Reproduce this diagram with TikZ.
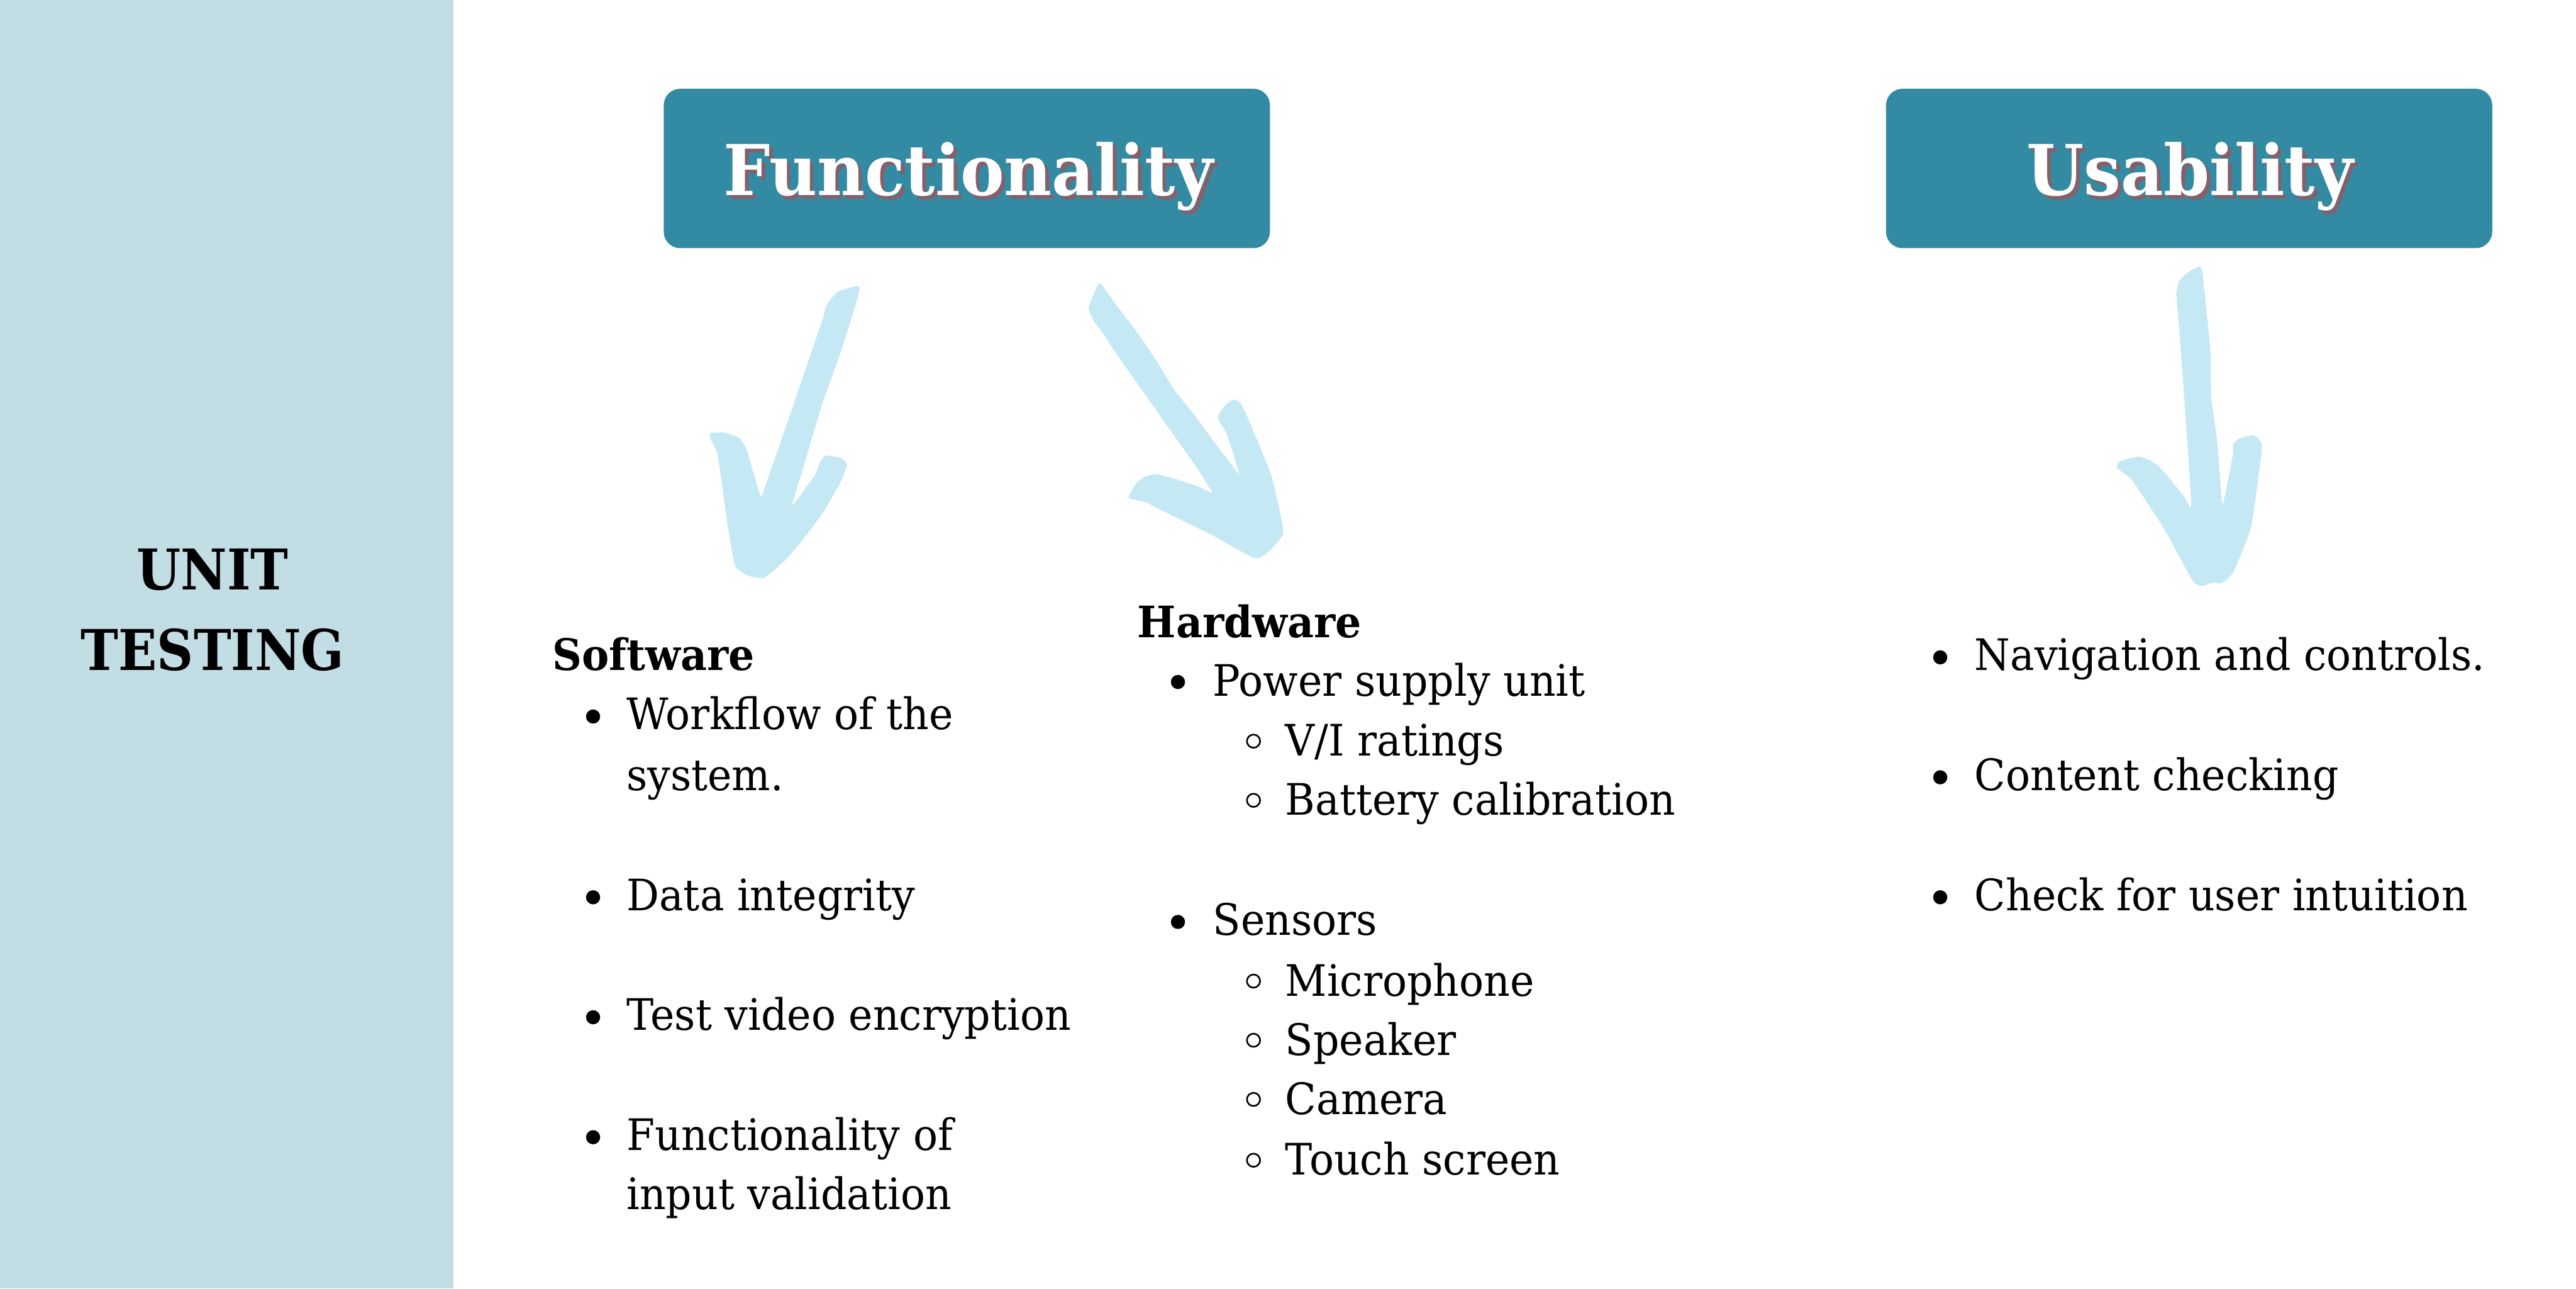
\documentclass[tikz,border=0pt]{standalone}
\usepackage{fontspec}
\setmainfont{DejaVu Serif}[FakeStretch=0.94]
\newfontfamily\sidefont{DejaVu Serif}[FakeStretch=0.9]
\usetikzlibrary{positioning}
\definecolor{panelblue}{RGB}{195,221,228}
\definecolor{boxteal}{RGB}{51,139,163}
\definecolor{shadowred}{RGB}{132,96,107}
\definecolor{arrowblue}{RGB}{197,232,245}
\newcommand{\shadowtext}[1]{\makebox[0pt][l]{\hspace{1.1pt}\raisebox{-1pt}{\color{shadowred}#1}}#1}
\newcommand{\fbul}[2]{\fill (#1,#2) circle[radius=2.15pt];}
\newcommand{\obul}[2]{\draw[line width=0.5pt] (#1,#2) circle[radius=2pt];}

\begin{document}
\begin{tikzpicture}[x=0.5pt, y=-0.5pt,
  txt/.style={anchor=base west, inner sep=0pt, font=\fontsize{13.2}{16}\selectfont},
  head/.style={txt, font=\fontsize{13.2}{16}\selectfont\bfseries},
  titlebox/.style={fill=boxteal, rounded corners=5pt, minimum width=184.5pt,
    minimum height=48.5pt, inner sep=0pt},
  titletext/.style={anchor=base, inner sep=0pt, text=white,
    font=\fontsize{21.3}{24}\selectfont\bfseries},
  sidetext/.style={anchor=base, inner sep=0pt, font=\sidefont\fontsize{17.1}{20}\selectfont\bfseries},
  brush/.style={fill=arrowblue}]
  \useasboundingbox (0,0) rectangle (1568,784);
  % side panel
  \fill[panelblue] (0,0) rectangle (276,784);
  \node[sidetext] (unit) at (129.5,359) {UNIT};
  \node[sidetext] (testing) at (129.5,408) {TESTING};
  % title boxes
  \node[titlebox] (func) at (588.5,102.5) {};
  \node[titletext] (funclbl) at (589.5,119) {\shadowtext{Functionality}};
  \node[titlebox] (usab) at (1332.5,102.5) {};
  \node[titletext] (usablbl) at (1333,119) {\shadowtext{Usability}};
  % brush arrows
  \fill[brush] plot[smooth cycle, tension=0.3] coordinates {
    (522.6,174.0) (509.8,177.6) (502.9,186.1) (500.6,194.6) (489.0,228.6)
    (477.4,262.5) (465.9,295.3) (463.5,302.5) (461.2,296.5) (454.3,273.4)
    (449.7,266.2) (440.4,263.1) (432.3,263.7) (432.3,266.8) (436.9,277.1)
    (442.7,318.3) (447.3,343.8) (454.3,349.9) (464.7,351.7) (477.4,341.4)
    (489.0,328.0) (500.6,312.3) (511.0,294.7) (515.6,283.1) (512.2,278.9)
    (502.9,277.1) (499.4,280.7) (496.0,289.2) (489.0,298.9) (482.1,307.4)
    (489.0,284.3) (500.6,245.5) (511.0,216.4) (518.0,194.6) (522.6,178.8)};
  \fill[brush] plot[smooth cycle, tension=0.3] coordinates {
    (668.4,172.8) (662.6,187.3) (666.1,195.8) (670.7,201.9) (681.2,217.6)
    (692.7,234.0) (704.3,250.4) (715.9,266.8) (727.4,283.1) (737.9,299.5)
    (735.5,298.9) (727.4,295.3) (715.9,291.6) (704.3,288.6) (697.3,289.8)
    (691.6,294.1) (686.9,302.5) (689.3,303.8) (697.3,305.6) (704.3,309.2)
    (722.8,318.3) (739.0,326.2) (750.6,332.9) (762.2,339.0) (766.8,339.5)
    (772.6,335.3) (776.1,331.7) (780.7,325.6) (780.7,319.5) (773.8,289.2)
    (759.9,255.2) (755.2,245.5) (751.7,243.1) (748.3,244.3) (743.7,249.2)
    (741.3,254.0) (743.7,258.9) (747.1,264.9) (754.1,288.0) (749.4,282.5)
    (737.9,267.4) (726.3,251.6) (714.7,237.0) (704.3,220.1) (692.7,203.1)
    (681.2,187.9) (670.7,173.4)};
  \fill[brush] plot[smooth cycle, tension=0.3] coordinates {
    (1339.0,162.3) (1340.7,166.3) (1342.5,183.6) (1345.5,214.2) (1345.9,240.8)
    (1349.4,267.4) (1352.4,304.7) (1353.6,304.7) (1358.9,278.1) (1359.4,270.1)
    (1363.3,266.8) (1371.9,264.8) (1376.7,270.1) (1375.9,280.7) (1370.2,320.7)
    (1359.8,347.3) (1352.9,354.6) (1346.8,354.6) (1339.8,356.6) (1334.6,353.3)
    (1318.1,323.3) (1298.2,292.7) (1288.6,284.7) (1290.4,280.7) (1302.5,277.8)
    (1313.8,283.4) (1329.4,302.0) (1333.8,307.4) (1329.4,240.8) (1326.0,194.2)
    (1325.1,184.9) (1324.7,178.3) (1326.8,170.3) (1332.9,165.0)};
  % software list
  \node[head] (sw) at (336,408) {Software};
  \fbul{361}{436}
  \node[txt] (sw1) at (381,444) {Workflow of the};
  \node[txt] (sw1b) at (381,481) {system.};
  \fbul{361}{546}
  \node[txt] (sw2) at (381,554) {Data integrity};
  \fbul{361}{619}
  \node[txt] (sw3) at (381,627) {Test video encryption};
  \fbul{361}{692}
  \node[txt] (sw4) at (381,700) {Functionality of};
  \node[txt] (sw4b) at (381,736) {input validation};
  % hardware list
  \node[head] (hw) at (692,388) {Hardware};
  \fbul{717}{415}
  \node[txt] (hw1) at (738,423.5) {Power supply unit};
  \obul{763}{451}
  \node[txt] (hw1a) at (782,460) {V/I ratings};
  \obul{763}{487}
  \node[txt] (hw1b) at (782,496) {Battery calibration};
  \fbul{717}{561}
  \node[txt] (hw2) at (738,569) {Sensors};
  \obul{763}{597}
  \node[txt] (hw2a) at (782,606) {Microphone};
  \obul{763}{633}
  \node[txt] (hw2b) at (782,642) {Speaker};
  \obul{763}{669}
  \node[txt] (hw2c) at (782,678) {Camera};
  \obul{763}{706}
  \node[txt] (hw2d) at (782,715) {Touch screen};
  % usability list
  \fbul{1181}{400}
  \node[txt] (us1) at (1201.5,408) {Navigation and controls.};
  \fbul{1181}{473}
  \node[txt] (us2) at (1201.5,481) {Content checking};
  \fbul{1181}{546}
  \node[txt] (us3) at (1201.5,554) {Check for user intuition};
\end{tikzpicture}
\end{document}
